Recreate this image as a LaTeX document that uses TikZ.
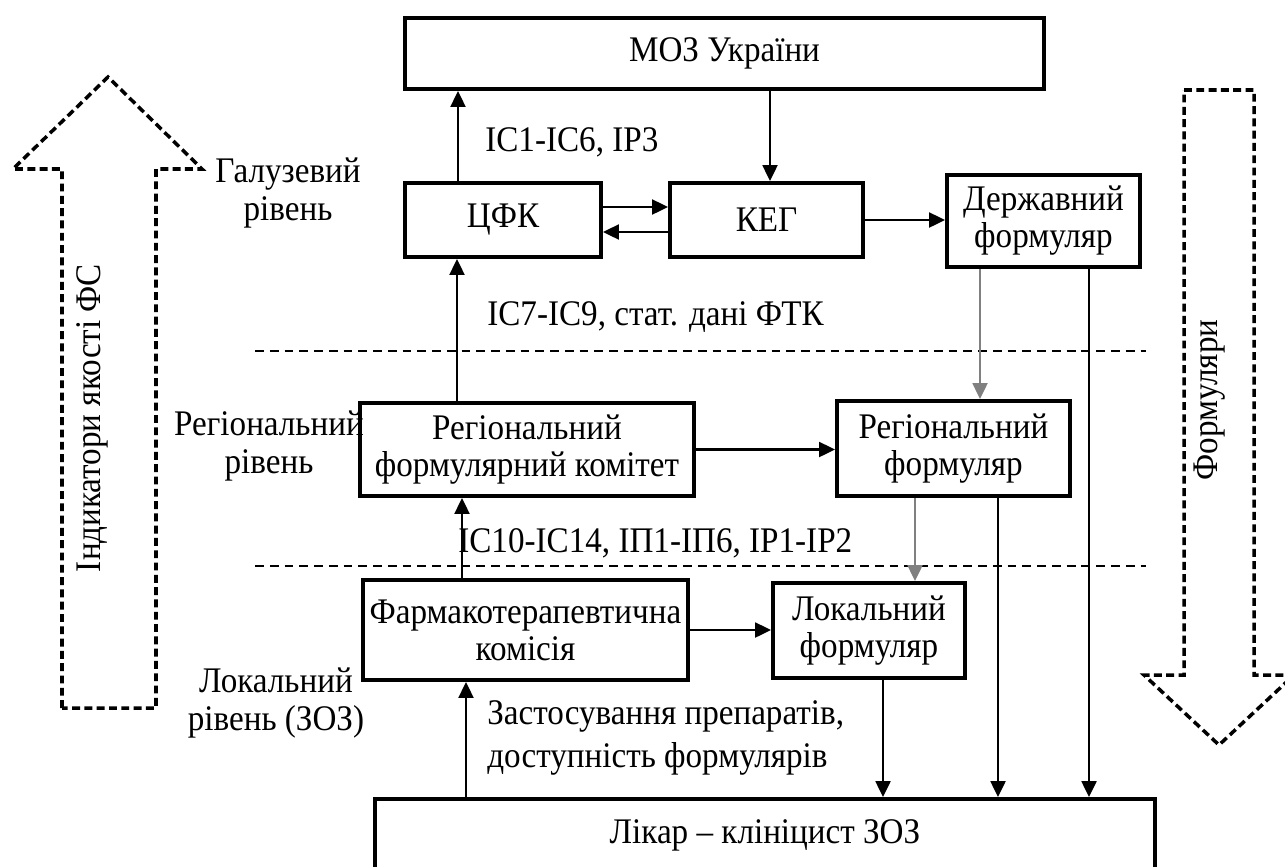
\documentclass[tikz,border=0pt]{standalone}
\usepackage{fontspec}
\setmainfont{Liberation Serif}[FakeStretch=0.92]
\usetikzlibrary{arrows.meta}
\newdimen\pxu \pxu=0.02cm

\begin{document}
\begin{tikzpicture}[x=0.02cm,y=-0.02cm]
  \tikzset{box/.style = {draw, line width=2.3pt, inner sep=0pt, align=center, font=\fontsize{20.5}{21}\selectfont}}
  \tikzset{lbl/.style = {inner sep=0pt, align=center, font=\fontsize{20.5}{21.5}\selectfont}}
  \tikzset{tipT/.tip={Triangle[length=9pt,width=8.5pt]}}
  \tikzset{link/.style = {line width=1.2pt, -tipT}}
  \tikzset{glink/.style = {link, draw=black!50}}
  \tikzset{level/.style = {line width=1.2pt, dash pattern=on 5pt off 3.4pt}}
  \tikzset{bigarrow/.style = {line width=2pt, dash pattern=on 4.5pt off 2.5pt, miter limit=20}}

  \useasboundingbox (0,0) rectangle (1285,866);

	\node[box, minimum width=639\pxu, minimum height=71\pxu] (moz) at (724.5,53.5) {МОЗ України};
	\node[box, minimum width=196\pxu, minimum height=74\pxu] (cfk) at (503,220) {ЦФК};
	\node[box, minimum width=193\pxu, minimum height=74\pxu] (keg) at (766.5,220) {КЕГ};
	\node[box, minimum width=193\pxu, minimum height=92\pxu] (dfr) at (1043.5,221) {Державний\\формуляр};

	\node[box, minimum width=334\pxu, minimum height=93\pxu] (rfk) at (527,449.5) {Регіональний\\формулярний комітет};
	\node[box, minimum width=233\pxu, minimum height=95\pxu] (rfr) at (953.5,448.5) {Регіональний\\формуляр};

	\node[box, minimum width=325\pxu, minimum height=100\pxu] (ftk) at (525.5,630) {Фармакотерапевтична\\комісія};
	\node[box, minimum width=192\pxu, minimum height=95\pxu] (lfr) at (869,630.5) {Локальний\\формуляр};
	\node[box, anchor=north, minimum width=780\pxu, text height=44\pxu, text depth=100\pxu] (likar) at (765,797) {Лікар – клініцист ЗОЗ};

	\node[lbl, anchor=west] (inf1) at (485,142) {ІС1-ІС6, ІР3};
	\node[lbl, anchor=west] (inf2) at (487,317) {ІС7-ІС9, стат. дані ФТК};
	\node[lbl, anchor=west] (inf3) at (458,543) {ІС10-ІС14, ІП1-ІП6, ІР1-ІР2};
	\node[lbl, anchor=west, align=left, font=\fontsize{20.5}{24.5}\selectfont] (inf4) at (487,738) {Застосування препаратів,\\доступність формулярів};

	\node[lbl] (lev1) at (288,193) {Галузевий\\рівень};
	\node[lbl] (lev2) at (269,446) {Регіональний\\рівень};
	\node[lbl] (lev3) at (276,703) {Локальний\\рівень (ЗОЗ)};

	\node[lbl, rotate=90] (ind) at (92,418) {Індикатори якості ФС};
	\node[lbl, rotate=90] (frm) at (1210,400) {Формуляри};

    \draw[level] (255,351) -- (1146,351);
    \draw[level] (255,566) -- (1146,566);

    \draw[bigarrow] (62,708) -- (62,169) -- (13,169) -- (108,77) -- (202,169) -- (156,169) -- (156,708) -- cycle;
    \draw[bigarrow] (1184,90) -- (1254,90) -- (1254,675) -- (1294,675) -- (1219,745) -- (1144,675) -- (1184,675) -- cycle;

    \foreach \from/\to/\dx in {cfk/moz/-45, rfk/cfk/-70, ftk/rfk/-63.5, likar/ftk/-299}
    \draw[link] ([xshift=\dx\pxu]\from.north) -- ([xshift=\dx\pxu]\from.north |- \to.south);

    \foreach \from/\to/\dx in {moz/keg/45.5, dfr/likar/45.5, rfr/likar/44.5, lfr/likar/14}
    \draw[link] ([xshift=\dx\pxu]\from.south) -- ([xshift=\dx\pxu]\from.south |- \to.north);

    \foreach \from/\to/\dx in {dfr/rfr/-63.5, rfr/lfr/-38.5}
    \draw[glink] ([xshift=\dx\pxu]\from.south) -- ([xshift=\dx\pxu]\from.south |- \to.north);

    \draw[link] ([yshift=13\pxu]cfk.east) -- ([yshift=13\pxu]cfk.east -| keg.west);
    \draw[link] ([yshift=-12\pxu]keg.west) -- ([yshift=-12\pxu]keg.west -| cfk.east);

    \foreach \from/\to in {keg/dfr, rfk/rfr, ftk/lfr}
    \draw[link] (\from.east) -- (\from.east -| \to.west);

\end{tikzpicture}
\end{document}
